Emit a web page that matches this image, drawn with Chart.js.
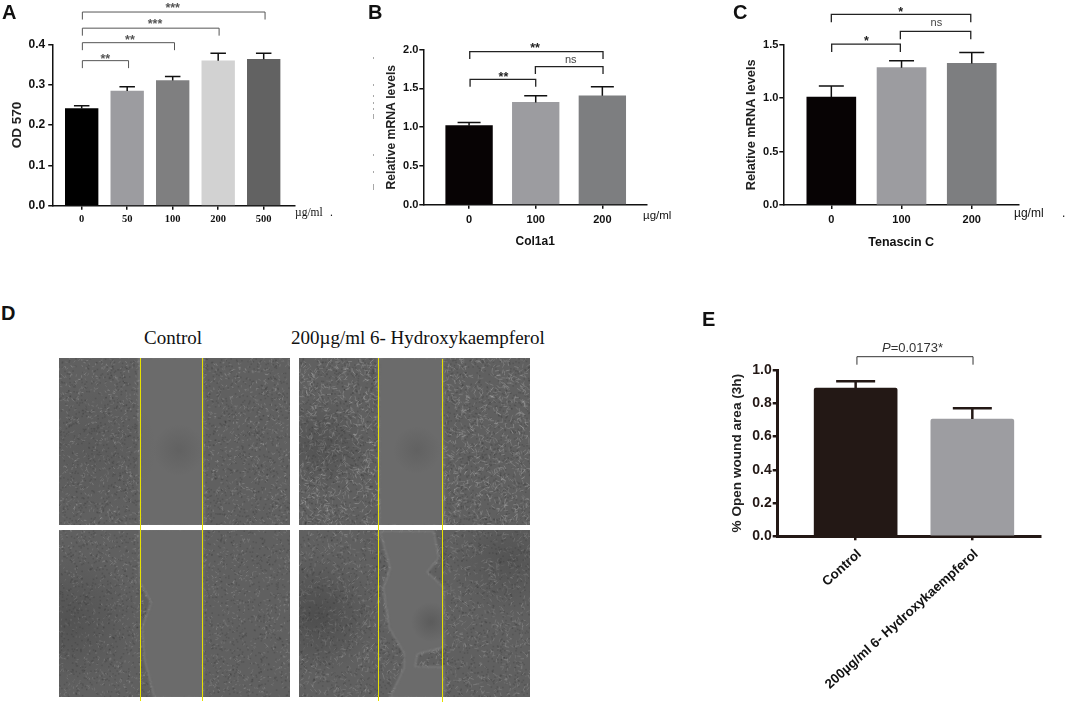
<!DOCTYPE html>
<html>
<head>
<meta charset="utf-8">
<script src="https://cdn.jsdelivr.net/npm/chart.js@4/dist/chart.umd.min.js"></script>
<style>
  html, body { margin: 0; padding: 0; background: #fff; }
  #page { position: relative; width: 1065px; height: 704px; overflow: hidden; }
  #page canvas { position: absolute; }
  .txt { position: absolute; white-space: nowrap; color: #111; line-height: 1; }
  .letter { font: bold 20px "Liberation Sans", sans-serif; }
  .serif { font-family: "Liberation Serif", serif; }
  .sans { font-family: "Liberation Sans", sans-serif; }
  .speck { position: absolute; width: 1px; background: #a8a8a8; }
</style>
</head>
<body>
<div id="page">
  <canvas id="photos" style="left:0;top:350px" width="560" height="354"></canvas>
  <canvas id="chartA" style="left:0;top:0"></canvas>
  <canvas id="chartB" style="left:360px;top:0"></canvas>
  <canvas id="chartC" style="left:720px;top:0"></canvas>
  <canvas id="chartE" style="left:700px;top:300px"></canvas>

  <div class="txt letter" style="left:2px;top:1px">A</div>
  <div class="txt letter" style="left:368px;top:1px">B</div>
  <div class="txt letter" style="left:733px;top:1px">C</div>
  <div class="txt letter" style="left:1px;top:302px">D</div>
  <div class="txt letter" style="left:702px;top:308px">E</div>

  <div class="txt serif" style="left:295px;top:207px;font-size:11.5px">µg/ml</div>
  <div class="txt serif" style="left:330px;top:207px;font-size:11.5px">.</div>
  <div class="txt sans" style="left:643px;top:210px;font-size:11.5px">µg/ml</div>
  <div class="txt sans" style="left:1014px;top:207px;font-size:12px">µg/ml</div>
  <div class="txt sans" style="left:1062px;top:207px;font-size:12px">.</div>

  <div class="txt serif" style="left:144px;top:328px;font-size:19px">Control</div>
  <div class="txt serif" style="left:291px;top:328px;font-size:19px">200µg/ml 6- Hydroxykaempferol</div>
  <div class="txt sans" style="left:882px;top:341px;font-size:13px;color:#333"><i>P</i>=0.0173*</div>
</div>

<script>
// Panel A - OD 570
const catsA = ['0', '50', '100', '200', '500'];
const valuesA = [0.241, 0.284, 0.31, 0.359, 0.363];
const errTopA = [0.248, 0.295, 0.32, 0.378, 0.378];
const colorsA = ['#000000', '#9c9ca0', '#7f7f80', '#d2d2d2', '#626262'];
const ticksA = [0, 0.1, 0.2, 0.3, 0.4];
// [from, to, level, text, text x, text y] in axis units
const bracketsA = [
  [0.015, 4.03, 0.48, '***', 2.0, 0.495],
  [0.015, 3.02, 0.44, '***', 1.61, 0.456],
  [0.015, 2.04, 0.404, '**', 1.06, 0.416],
  [0.015, 1.03, 0.3595, '**', 0.52, 0.371]
];

// Panel B - Col1a1
const catsB = ['0', '100', '200'];
const valuesB = [1.02, 1.32, 1.406];
const errTopB = [1.062, 1.406, 1.523];
const colorsB = ['#070304', '#9c9ca0', '#7d7e80'];
const ticksB = [0, 0.5, 1, 1.5, 2];
const bracketsB = [
  [0.01, 2.01, 1.974, '**', 0.99, 2.052],
  [0.995, 2.01, 1.781, 'ns', 1.525, 1.867],
  [0.015, 1.0, 1.617, '**', 0.515, 1.677]
];

// Panel C - Tenascin C
const catsC = ['0', '100', '200'];
const valuesC = [1.01, 1.285, 1.325];
const errTopC = [1.113, 1.35, 1.428];
const colorsC = ['#070304', '#9c9ca0', '#7d7e80'];
const ticksC = [0, 0.5, 1, 1.5];
const bracketsC = [
  [0, 1.986, 1.784, '*', 0.988, 1.83],
  [0.983, 1.986, 1.625, 'ns', 1.496, 1.70],
  [0.005, 0.983, 1.506, '*', 0.5, 1.556]
];

// Panel E - wound area
const catsE = ['Control', '200µg/ml 6- Hydroxykaempferol'];
const valuesE = [0.892, 0.705];
const errTopE = [0.932, 0.77];
const colorsE = ['#231815', '#9d9da1'];
const ticksE = [0, 0.2, 0.4, 0.6, 0.8, 1];
const bracketsE = [[0.011, 1.006, 1.08, '', 0, 0]];

// error bars and significance brackets, placed with the chart's own scales
const marksPlugin = {
  id: 'marks',
  afterDatasetsDraw(chart, args, opts) {
    const ctx = chart.ctx, x = chart.scales.x, y = chart.scales.y;
    ctx.save();
    ctx.strokeStyle = opts.errColor;
    ctx.lineWidth = opts.errWidth;
    opts.values.forEach((v, i) => {
      const px = x.getPixelForValue(i), top = y.getPixelForValue(opts.errTop[i]);
      ctx.beginPath();
      ctx.moveTo(px, y.getPixelForValue(v));
      ctx.lineTo(px, top);
      ctx.moveTo(px - opts.cap / 2, top);
      ctx.lineTo(px + opts.cap / 2, top);
      ctx.stroke();
    });
    ctx.strokeStyle = opts.brColor;
    ctx.lineWidth = opts.brWidth;
    opts.brackets.forEach(b => {
      const x0 = x.getPixelForValue(b[0]), x1 = x.getPixelForValue(b[1]), ly = y.getPixelForValue(b[2]);
      ctx.beginPath();
      ctx.moveTo(x0, ly + opts.drop);
      ctx.lineTo(x0, ly);
      ctx.lineTo(x1, ly);
      ctx.lineTo(x1, ly + opts.drop);
      ctx.stroke();
      if (!b[3]) return;
      ctx.font = b[3] === 'ns' ? '11px "Liberation Sans"' : 'bold 12.5px "Liberation Sans"';
      ctx.fillStyle = b[3] === 'ns' ? '#444' : opts.brColor;
      ctx.textAlign = 'center';
      ctx.textBaseline = 'alphabetic';
      const m = ctx.measureText(b[3]);
      ctx.fillText(b[3], x.getPixelForValue(b[4]),
        y.getPixelForValue(b[5]) + (m.actualBoundingBoxAscent - m.actualBoundingBoxDescent) / 2);
    });
    ctx.restore();
  }
};

function barPanel(id, c) {
  const cv = document.getElementById(id);
  cv.style.width = c.w + 'px';
  cv.style.height = c.h + 'px';
  new Chart(cv, {
    type: 'bar',
    plugins: [marksPlugin],
    data: {
      datasets: [{
        data: c.values.map((v, i) => ({ x: i, y: v })),
        backgroundColor: c.colors,
        barThickness: c.barW,
        borderRadius: c.radius || 0,
        borderSkipped: 'bottom'
      }]
    },
    options: {
      responsive: false,
      animation: false,
      events: [],
      layout: { padding: { top: c.top, right: c.right, left: 0, bottom: 0 } },
      plugins: {
        legend: { display: false },
        tooltip: { enabled: false },
        marks: {
          values: c.values, errTop: c.errTop, brackets: c.brackets, cap: c.cap, drop: c.drop,
          errColor: c.axis, errWidth: c.errWidth, brColor: c.brColor, brWidth: c.brWidth
        }
      },
      scales: {
        x: {
          type: 'linear',
          offset: false,
          min: c.xMin,
          max: c.xMax,
          afterBuildTicks: s => { s.ticks = c.cats.map((_, i) => ({ value: i })); },
          afterFit: s => { s.height = c.xH; },
          border: { color: c.axis, width: c.axisW },
          grid: { offset: false, drawOnChartArea: false, color: c.axis, lineWidth: c.tickW, tickLength: c.xTick },
          title: c.xTitle ? {
            display: true, text: c.xTitle, color: '#111',
            font: { family: 'Liberation Sans', size: c.xTitleSize, weight: 'bold' }, padding: c.xTitlePad
          } : { display: false },
          ticks: {
            autoSkip: false,
            color: '#111',
            padding: c.xPad,
            font: c.xFont,
            minRotation: c.rot || 0,
            maxRotation: c.rot || 0,
            labelOffset: c.rot ? 4 : 0,
            callback: v => c.cats[v]
          }
        },
        y: {
          min: 0,
          max: c.yMax,
          afterBuildTicks: s => { s.ticks = c.yTicks.map(v => ({ value: v })); },
          afterFit: s => { s.width = c.yW; },
          border: { color: c.axis, width: c.axisW },
          grid: { drawOnChartArea: false, color: c.axis, lineWidth: c.tickW, tickLength: c.yTick },
          title: {
            display: true, text: c.yTitle, color: '#222',
            font: c.yTitleFont, padding: c.yTitlePad
          },
          ticks: {
            color: c.tickColor || '#111',
            padding: c.yPad,
            font: c.yFont,
            callback: v => v.toFixed(1)
          }
        }
      }
    }
  });
}

const boldSans = size => ({ family: 'Liberation Sans', size: size, weight: 'bold' });

barPanel('chartA', {
  w: 340, h: 240, top: 44.3, right: 45, yW: 52.7, xH: 34.3,
  xMin: -0.637, xMax: 4.688, yMax: 0.4, barW: 32.7, cap: 15.5, drop: 7.5,
  cats: catsA, values: valuesA, errTop: errTopA, colors: colorsA, yTicks: ticksA, brackets: bracketsA,
  axis: '#111', axisW: 1.5, tickW: 1.5, xTick: 4, yTick: 4.5, yPad: 3, errWidth: 1.5, brColor: '#555', brWidth: 1,
  xFont: { family: 'Liberation Serif', size: 10.5, weight: 'bold' }, xPad: 3,
  yFont: boldSans(12), yTitle: 'OD 570', yTitleFont: boldSans(13.5), yTitlePad: { top: 9, bottom: 0 }
});

barPanel('chartB', {
  w: 340, h: 270, top: 49.7, right: 53, yW: 63.3, xH: 65.3,
  xMin: -0.687, xMax: 2.67, yMax: 2, barW: 46.7, cap: 23, drop: 7.3,
  cats: catsB, values: valuesB, errTop: errTopB, colors: colorsB, yTicks: ticksB, brackets: bracketsB,
  axis: '#111', axisW: 1.5, tickW: 1.5, xTick: 4, yTick: 4, yPad: 1, errWidth: 1.5, brColor: '#222', brWidth: 1.3,
  xFont: boldSans(11), xPad: 5, xTitle: 'Col1a1', xTitleSize: 12, xTitlePad: { top: 12, bottom: 21 },
  yFont: boldSans(11), yTitle: 'Relative mRNA levels', yTitleFont: boldSans(12.2), yTitlePad: { top: 24, bottom: 0 }
});

barPanel('chartC', {
  w: 345, h: 270, top: 44.7, right: 46, yW: 63.3, xH: 65,
  xMin: -0.684, xMax: 2.673, yMax: 1.5, barW: 49, cap: 25, drop: 8,
  cats: catsC, values: valuesC, errTop: errTopC, colors: colorsC, yTicks: ticksC, brackets: bracketsC,
  axis: '#111', axisW: 1.5, tickW: 1.5, xTick: 4, yTick: 4, yPad: 1, errWidth: 1.5, brColor: '#222', brWidth: 1.3,
  xFont: boldSans(11), xPad: 4, xTitle: 'Tenascin C', xTitleSize: 12.5, xTitlePad: { top: 12, bottom: 20 },
  yFont: boldSans(11), yTitle: 'Relative mRNA levels', yTitleFont: boldSans(12.8), yTitlePad: { top: 24, bottom: 0 }
});

barPanel('chartE', {
  w: 365, h: 404, top: 70, right: 25, yW: 77.7, xH: 167.7,
  xMin: -0.668, xMax: 1.58, yMax: 1, barW: 83, cap: 39, drop: 8, radius: 2,
  cats: catsE, values: valuesE, errTop: errTopE, colors: colorsE, yTicks: ticksE, brackets: bracketsE,
  axis: '#231815', axisW: 3, tickW: 2.5, xTick: 4, yTick: 5, yPad: 1, errWidth: 2.5, brColor: '#333', brWidth: 1,
  xFont: boldSans(13.3), xPad: 6, rot: 42, tickColor: '#231815',
  yFont: boldSans(14), yTitle: '% Open wound area (3h)', yTitleFont: boldSans(13.6), yTitlePad: { top: 29, bottom: 0 }
});

// Panel D - micrographs: photographic texture only, no chart data
const photos = [
  { x: 59, y: 358, w: 231, h: 167, n: 1900, len: 2.5, a: 0.3, shade: [[30, 90, 70, 0.08], [120, 92, 26, 0.12]],
    wound: [[140, 358], [202, 358], [203, 525], [141, 525]] },
  { x: 299, y: 358, w: 231, h: 167, n: 2500, len: 4, a: 0.36, shade: [[21, 87, 50, 0.2], [118, 92, 24, 0.12]],
    wound: [[379, 358], [442, 358], [443, 525], [380, 525]] },
  { x: 59, y: 530, w: 231, h: 167, n: 1700, len: 2.2, a: 0.28, shade: [[10, 90, 70, 0.2]],
    wound: [[141, 530], [202, 530], [202, 697], [155, 697], [145, 658], [143, 628], [152, 602], [141, 582]] },
  { x: 299, y: 530, w: 231, h: 167, n: 1800, len: 3.5, a: 0.28, shade: [[18, 85, 60, 0.28], [132, 92, 20, 0.2], [210, 30, 60, 0.18]],
    wound: [[381, 532], [433, 532], [438, 558], [426, 572], [443, 588], [443, 647], [417, 653], [414, 667], [443, 668],
      [443, 697], [391, 697], [405, 668], [405, 653], [390, 628], [384, 588], [391, 568]] }
];
const yellowLines = [[140, 358, 701], [202, 358, 701], [378, 358, 701], [442, 359, 702]];

function drawPhotos() {
  const ctx = document.getElementById('photos').getContext('2d');
  const off = 350;
  let seed = 12345;
  const next = () => { seed = (seed * 16807) % 2147483647; return seed / 2147483647; };

  photos.forEach(p => {
    const trace = () => {
      ctx.beginPath();
      p.wound.forEach((q, i) => i ? ctx.lineTo(q[0], q[1] - off) : ctx.moveTo(q[0], q[1] - off));
      ctx.closePath();
    };
    ctx.save();
    ctx.beginPath();
    ctx.rect(p.x, p.y - off, p.w, p.h);
    ctx.clip();
    ctx.fillStyle = '#606060';
    ctx.fillRect(p.x, p.y - off, p.w, p.h);
    ctx.filter = 'blur(0.6px)';
    // dark grain
    for (let i = 0; i < p.n; i++) {
      ctx.fillStyle = 'rgba(40,40,40,0.2)';
      ctx.fillRect(p.x + next() * p.w, p.y - off + next() * p.h, 1.5, 1.5);
    }
    // cell outlines
    ctx.lineWidth = 1;
    for (let i = 0; i < p.n; i++) {
      const sx = p.x + next() * p.w, sy = p.y - off + next() * p.h, t = next() * 6.28;
      ctx.strokeStyle = 'rgba(190,190,190,' + (p.a * (0.4 + next() * 0.6)) + ')';
      ctx.beginPath();
      ctx.moveTo(sx, sy);
      ctx.lineTo(sx + Math.cos(t) * p.len, sy + Math.sin(t) * p.len);
      ctx.stroke();
    }
    // rim of cells along the wound, then the empty gap with a soft edge
    ctx.filter = 'blur(1.2px)';
    trace();
    ctx.strokeStyle = 'rgba(180,180,180,0.35)';
    ctx.lineWidth = 3;
    ctx.stroke();
    trace();
    ctx.fillStyle = '#6b6b6b';
    ctx.fill();
    ctx.filter = 'none';
    // uneven illumination
    p.shade.forEach(s => {
      const cx = p.x + s[0], cy = p.y - off + s[1];
      const g = ctx.createRadialGradient(cx, cy, 0, cx, cy, s[2]);
      g.addColorStop(0, 'rgba(30,30,30,' + s[3] + ')');
      g.addColorStop(1, 'rgba(30,30,30,0)');
      ctx.fillStyle = g;
      ctx.fillRect(p.x, p.y - off, p.w, p.h);
    });
    ctx.restore();
  });

  ctx.fillStyle = '#e6e000';
  yellowLines.forEach(l => {
    ctx.fillRect(l[0], l[1] - off, 1, l[2] - l[1]);
  });
}
drawPhotos();

// faint specks left of the axis in panel B
const specksB = [[57, 2], [84, 2], [95, 2], [102, 2], [108, 2], [114, 5], [154, 2], [171, 2], [184, 6]];
specksB.forEach(s => {
  const d = document.createElement('div');
  d.className = 'speck';
  d.style.left = '373px';
  d.style.top = s[0] + 'px';
  d.style.height = s[1] + 'px';
  document.getElementById('page').appendChild(d);
});
</script>
</body>
</html>
